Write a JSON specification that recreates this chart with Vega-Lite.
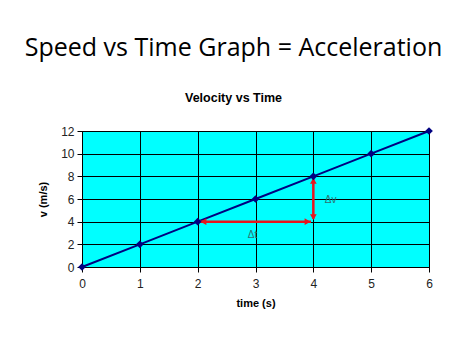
{
  "$schema": "https://vega.github.io/schema/vega-lite/v6.json",
  "width": 347,
  "height": 136,
  "autosize": {"type": "none"},
  "padding": {"left": 82, "top": 131, "right": 45, "bottom": 88},
  "background": "white",
  "title": {
    "text": "Speed vs Time Graph = Acceleration",
    "subtitle": "Velocity vs Time",
    "font": "Open Sans",
    "fontSize": 25,
    "fontWeight": "normal",
    "color": "black",
    "subtitleFont": "Liberation Sans",
    "subtitleFontSize": 12.5,
    "subtitleFontWeight": "bold",
    "subtitleColor": "black",
    "subtitlePadding": 31,
    "offset": 21,
    "anchor": "middle",
    "dx": -22
  },
  "config": {
    "view": {"fill": "#00FFFF", "stroke": "black", "strokeWidth": 1},
    "axis": {
      "labelFont": "Liberation Sans",
      "labelFontSize": 12,
      "labelColor": "#222",
      "labelOverlap": false,
      "labelFlush": false,
      "titleFont": "Liberation Sans",
      "titleFontSize": 11,
      "titleFontWeight": "bold",
      "titleColor": "black",
      "domainColor": "black",
      "tickColor": "black",
      "tickSize": 5,
      "gridColor": "black",
      "gridOpacity": 1,
      "gridWidth": 1
    }
  },
  "datasets": {
    "series": [
      {"t": 0, "v": 0}, {"t": 1, "v": 2}, {"t": 2, "v": 4}, {"t": 3, "v": 6},
      {"t": 4, "v": 8}, {"t": 5, "v": 10}, {"t": 6, "v": 12}
    ],
    "arrows": [
      {"t": 2.04, "v": 4, "t2": 3.96, "v2": 4},
      {"t": 4, "v": 4.25, "t2": 4, "v2": 7.75}
    ],
    "heads": [
      {"t": 2.1, "v": 4, "dir": "left"},
      {"t": 3.9, "v": 4, "dir": "right"},
      {"t": 4, "v": 7.6, "dir": "up"},
      {"t": 4, "v": 4.4, "dir": "down"}
    ],
    "labels": [
      {"t": 2.95, "v": 2.8, "label": "Δt"},
      {"t": 4.3, "v": 5.9, "label": "Δv"}
    ]
  },
  "encoding": {
    "x": {"field": "t", "type": "quantitative", "scale": {"domain": [0, 6], "nice": false},
          "axis": {"title": "time (s)", "values": [0, 1, 2, 3, 4, 5, 6], "format": "d", "titlePadding": 8, "labelPadding": 6}},
    "y": {"field": "v", "type": "quantitative", "scale": {"domain": [0, 12], "nice": false},
          "axis": {"title": "v (m/s)", "values": [0, 2, 4, 6, 8, 10, 12], "format": "d", "titlePadding": 12, "labelPadding": 3}}
  },
  "layer": [
    {
      "data": {"name": "series"},
      "mark": {"type": "line", "color": "#000080", "strokeWidth": 2}
    },
    {
      "data": {"name": "arrows"},
      "mark": {"type": "rule", "color": "#E8141C", "strokeWidth": 2.5},
      "encoding": {
        "x2": {"field": "t2"},
        "y2": {"field": "v2"}
      }
    },
    {
      "data": {"name": "heads"},
      "mark": {"type": "point", "filled": true, "color": "#E8141C", "size": 45, "opacity": 1},
      "encoding": {
        "shape": {"field": "dir", "type": "nominal", "legend": null,
                  "scale": {"domain": ["left", "right", "up", "down"], "range": ["triangle-left", "triangle-right", "triangle-up", "triangle-down"]}}
      }
    },
    {
      "data": {"name": "series"},
      "mark": {"type": "point", "shape": "diamond", "filled": true, "color": "#000080", "size": 60, "opacity": 1}
    },
    {
      "data": {"name": "labels"},
      "mark": {"type": "text", "font": "Liberation Sans", "fontSize": 10, "color": "#2F6F6F"},
      "encoding": {
        "text": {"field": "label"}
      }
    }
  ]
}
